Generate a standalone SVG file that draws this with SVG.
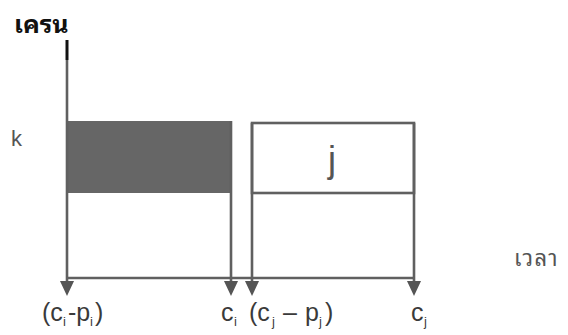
<svg xmlns="http://www.w3.org/2000/svg" width="568" height="335" viewBox="0 0 568 335">
<defs>
<style>
.ln{stroke:#606060;stroke-width:2.6;fill:none}
.lbl{font-family:"Liberation Sans",Arial,sans-serif;font-size:25px;fill:#3a3a3a}
.sub{font-size:13px}
.th{font-family:"Noto Sans Thai Looped","Noto Serif Thai","Noto Sans Thai","Noto Sans","Liberation Sans",sans-serif}
</style>
<marker id="ah" viewBox="0 0 15 14" refX="0" refY="7" markerWidth="15" markerHeight="14" markerUnits="userSpaceOnUse" orient="auto">
<path d="M0,0 L15,7 L0,14 Z" fill="#555"/>
</marker>
</defs>
<rect width="568" height="335" fill="#fff"/>
<g id="axis-label-crane">
<text x="14" y="33" class="th" font-size="25" font-weight="bold" fill="#111">เครน</text>
</g>
<g id="axis-label-time">
<text x="514" y="266" class="th" font-size="22" fill="#555" letter-spacing="1.5">เวลา</text>
</g>
<g id="label-k">
<text x="11" y="146" class="lbl" style="font-size:22px;fill:#555">k</text>
</g>
<g id="job-i">
<rect x="67" y="121" width="165" height="72" fill="#666"/>
</g>
<g id="job-j">
<rect x="252" y="123" width="162" height="70" class="ln"/>
<text x="332" y="172" class="lbl" text-anchor="middle" style="font-size:36px;fill:#555">j</text>
</g>
<g id="connectors">
<line x1="67" y1="40" x2="67" y2="60" stroke="#111" stroke-width="3"/>
<line x1="67" y1="60" x2="67" y2="281" class="ln" marker-end="url(#ah)"/>
<line x1="67" y1="278" x2="414" y2="278" class="ln"/>
<line x1="231" y1="121" x2="231" y2="281" class="ln" marker-end="url(#ah)"/>
<line x1="252" y1="123" x2="252" y2="281" class="ln" marker-end="url(#ah)"/>
<line x1="414" y1="123" x2="414" y2="281" class="ln" marker-end="url(#ah)"/>
</g>
<g id="labels">
<text y="321" class="lbl"><tspan x="42">(c</tspan><tspan x="63" dy="5" class="sub">i</tspan><tspan x="68" dy="-5">-p</tspan><tspan x="90" dy="5" class="sub">i</tspan><tspan x="95" dy="-5">)</tspan></text>
<text y="321" class="lbl"><tspan x="221">c</tspan><tspan x="234" dy="5" class="sub">i</tspan></text>
<text y="321" class="lbl"><tspan x="249">(c</tspan><tspan x="272" dy="5" class="sub">j</tspan><tspan x="283" dy="-5">–</tspan><tspan x="305">p</tspan><tspan x="319" dy="5" class="sub">j</tspan><tspan x="325" dy="-5">)</tspan></text>
<text y="321" class="lbl"><tspan x="411">c</tspan><tspan x="424" dy="5" class="sub">j</tspan></text>
</g>
</svg>
